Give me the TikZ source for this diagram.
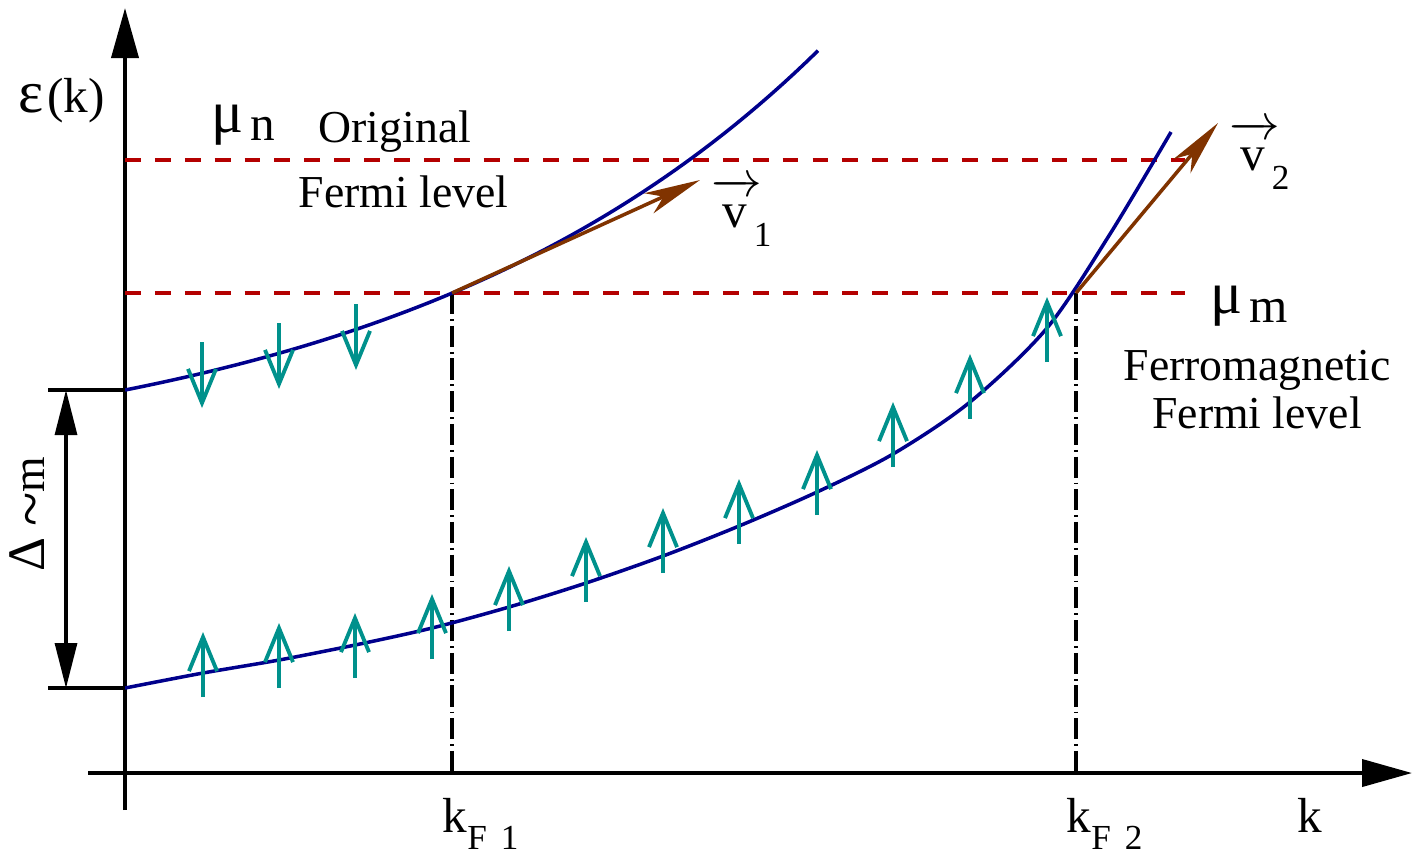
\documentclass[tikz,border=0pt]{standalone}
\usepackage{fontspec}
\setmainfont{Liberation Serif}
\usetikzlibrary{arrows.meta}

\definecolor{bandblue}{RGB}{0,0,140}
\definecolor{levelred}{RGB}{180,0,0}
\definecolor{spinteal}{RGB}{0,145,140}
\definecolor{velbrown}{RGB}{128,51,0}

\newcommand{\velvec}[1]{\vbox{\offinterlineskip\hbox to 13pt{\rightarrowfill}\kern2.2pt\hbox to 13pt{\hss v\hss}}\kern-1pt\raisebox{-5.5pt}{\fontsize{10}{12}\selectfont #1}}

\begin{document}
\begin{tikzpicture}[
    x=0.01cm, y=-0.01cm,
    axis/.style={
        line width=1.1pt,
        -{Triangle[length=5mm,width=2.7mm]}
    },
    band/.style={
        bandblue,
        line width=1pt
    },
    level/.style={
        levelred,
        line width=1.1pt,
        dash pattern=on 4.5pt off 4pt
    },
    fermik/.style={
        line width=1pt,
        dash pattern=on 6pt off 1.4pt on 0.5pt off 1.4pt
    },
    spin/.style={
        spinteal,
        line width=1.1pt,
        -{Straight Barb[length=3.4mm,width=2.8mm]}
    },
    velocity/.style={
        velbrown,
        line width=1pt,
        -{Stealth[length=5.6mm,width=2.2mm,inset=1.6mm]}
    },
    lbl/.style={
        font=\fontsize{13}{15}\selectfont,
        inner sep=0pt
    }
]
\useasboundingbox (0,0) rectangle (1413,856);

% Points
\coordinate (ytop) at (125,8);
\coordinate (ybot) at (125,810);
\coordinate (xleft) at (88,773);
\coordinate (xright) at (1412,773);
\coordinate (up0) at (125,390);
\coordinate (lo0) at (125,688);
\coordinate (kF1) at (452,293);
\coordinate (kF2) at (1076,293);
\coordinate (kF1ax) at (452,773);
\coordinate (kF2ax) at (1076,773);
\coordinate (v1tip) at (700,180);
\coordinate (v2tip) at (1218,123);

% Axes
\draw[axis] (ybot) -- (ytop);
\draw[axis] (xleft) -- (xright);

% Fermi levels
\draw[level] (125,160) -- (1185,160);
\draw[level] (125,293) -- (1185,293);
\draw[fermik] (kF1) -- (kF1ax);
\draw[fermik] (kF2) -- (kF2ax);

% Bands
\draw[band] plot[domain=125:818, samples=60] (\x, {390-86.2*(exp(0.0023*(\x-125))-1)});
\draw[band] plot[smooth] coordinates {(125,688) (203,673) (279,660) (355,645) (432,628) (509,607) (586,583) (663,556) (739,526) (817,492) (893,454) (970,402) (1047,328) (1110,234) (1171,132)};

% Splitting
\draw[line width=1pt] (48,390) -- (up0);
\draw[line width=1pt] (48,688) -- (lo0);
\draw[line width=0.9pt, {Triangle[length=4.5mm,width=2.2mm]}-{Triangle[length=4.5mm,width=2.2mm]}] (66,390) -- (66,688);

% Spins
\foreach \x/\yt in {202/342, 279/323, 356/304}
    \draw[spin] (\x,\yt) -- ++(0,66);
\foreach \x/\yb in {203/697, 279/688, 355/678, 432/659, 509/631, 586/602, 663/573, 739/544, 817/515, 893/467, 970/419, 1047/362}
    \draw[spin] (\x,\yb) -- ++(0,-65);

% Velocities
\draw[velocity] (kF1) -- (v1tip);
\draw[velocity] (kF2) -- (v2tip);

% Labels
\node[lbl, anchor=base west] (eps) at (18,112) {{\fontsize{17}{18}\selectfont ε}\kern1pt{\fontsize{14}{16}\selectfont (k)}};
\node[lbl, anchor=base west] (mun) at (211,132) {{\fontsize{17}{18}\selectfont μ}\kern2pt\raisebox{-2.3pt}{\fontsize{14}{16}\selectfont n}};
\node[lbl, anchor=base west] (orig) at (318,142) {Original};
\node[lbl, anchor=base west] (origfermi) at (298,207) {Fermi level};
\node[lbl, anchor=base west] (mum) at (1210,313) {{\fontsize{17}{18}\selectfont μ}\kern2pt\raisebox{-2.8pt}{\fontsize{14}{16}\selectfont m}};
\node[lbl, anchor=base] (ferro) at (1257,380) {Ferromagnetic};
\node[lbl, anchor=base] (ferrofermi) at (1257,428) {Fermi level};
\node[lbl, anchor=base west, font=\fontsize{14}{16}\selectfont] (v1) at (711,227) {\velvec{1}};
\node[lbl, anchor=base west, font=\fontsize{14}{16}\selectfont] (v2) at (1229,170) {\velvec{2}};
\node[lbl, anchor=base west] (kF1lbl) at (442,832) {{\fontsize{14}{16}\selectfont k}\raisebox{-5pt}{\fontsize{10}{12}\selectfont F\hspace{0.4em}1}};
\node[lbl, anchor=base west] (kF2lbl) at (1066,832) {{\fontsize{14}{16}\selectfont k}\raisebox{-5pt}{\fontsize{10}{12}\selectfont F\hspace{0.4em}2}};
\node[lbl, anchor=base west] (klbl) at (1297,832) {{\fontsize{14}{16}\selectfont k}};
\node[lbl, rotate=90] (gap) at (31,514) {{\fontsize{15}{16}\selectfont Δ} \raisebox{-2pt}{\fontsize{18}{18}\selectfont\textasciitilde}m};

\end{tikzpicture}
\end{document}
